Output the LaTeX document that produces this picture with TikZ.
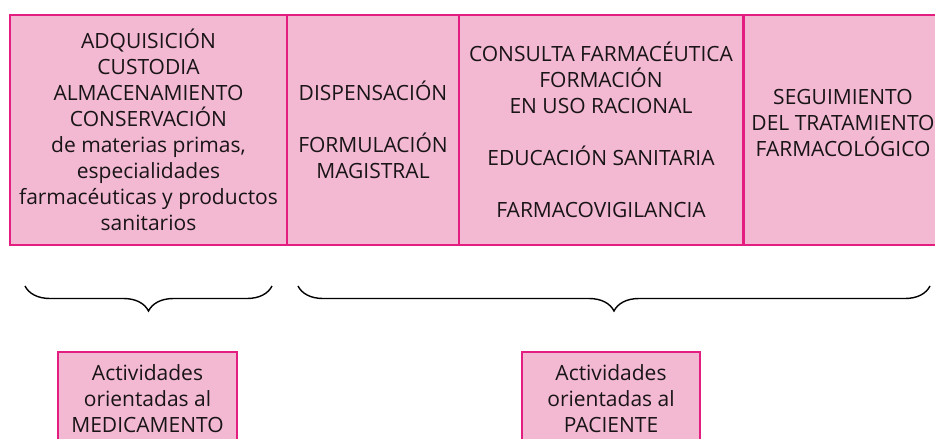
\documentclass[tikz,border=0pt]{standalone}
\usepackage{fontspec}
\setmainfont{Open Sans}
\usetikzlibrary{decorations.pathreplacing}
\definecolor{rosa}{RGB}{243,185,211}
\definecolor{magenta}{RGB}{228,30,128}
\definecolor{texto}{RGB}{25,20,22}
\begin{document}
\begin{tikzpicture}[x=1pt,y=-1pt]
	\tikzset{celda/.style={draw=magenta,fill=rosa,line width=1.6pt,inner sep=0pt,
		align=center,text=texto,font=\fontsize{21}{26}\selectfont}}
	\tikzset{llave/.style={decorate,decoration={brace,mirror,amplitude=25pt},line width=1.4pt}}
	\useasboundingbox (0,0) rectangle (935,439);
	% fila de actividades
	\node [celda,minimum width=277,minimum height=230] (adq) at (148.5,130)
		{ADQUISICIÓN\\CUSTODIA\\ALMACENAMIENTO\\CONSERVACIÓN\\de materias primas,\\especialidades\\farmacéuticas y productos\\sanitarios};
	\node [celda,minimum width=172,minimum height=230] (dis) at (373,130)
		{DISPENSACIÓN\\[26pt]FORMULACIÓN\\MAGISTRAL};
	\node [celda,minimum width=284,minimum height=230] (con) at (601,130)
		{CONSULTA FARMACÉUTICA\\FORMACIÓN\\EN USO RACIONAL\\[26pt]EDUCACIÓN SANITARIA\\[26pt]FARMACOVIGILANCIA};
	\node [celda,minimum width=210,minimum height=230,anchor=west] (seg) at (743,130) {};
	\node [align=center,text=texto,font=\fontsize{21}{26}\selectfont] (segt) at (843,123)
		{SEGUIMIENTO\\DEL TRATAMIENTO\\FARMACOLÓGICO};
	% llaves
	\coordinate (m1) at (25,286);
	\coordinate (m2) at (272,286);
	\coordinate (p1) at (298,286);
	\coordinate (p2) at (930,286);
	\draw [llave] (m1) -- (m2);
	\draw [llave] (p1) -- (p2);
	% cajas inferiores
	\node [celda,minimum width=179,minimum height=94] (med) at (147.5,399)
		{Actividades\\orientadas al\\MEDICAMENTO};
	\node [celda,minimum width=178,minimum height=94] (pac) at (611,399)
		{Actividades\\orientadas al\\PACIENTE};
\end{tikzpicture}
\end{document}
